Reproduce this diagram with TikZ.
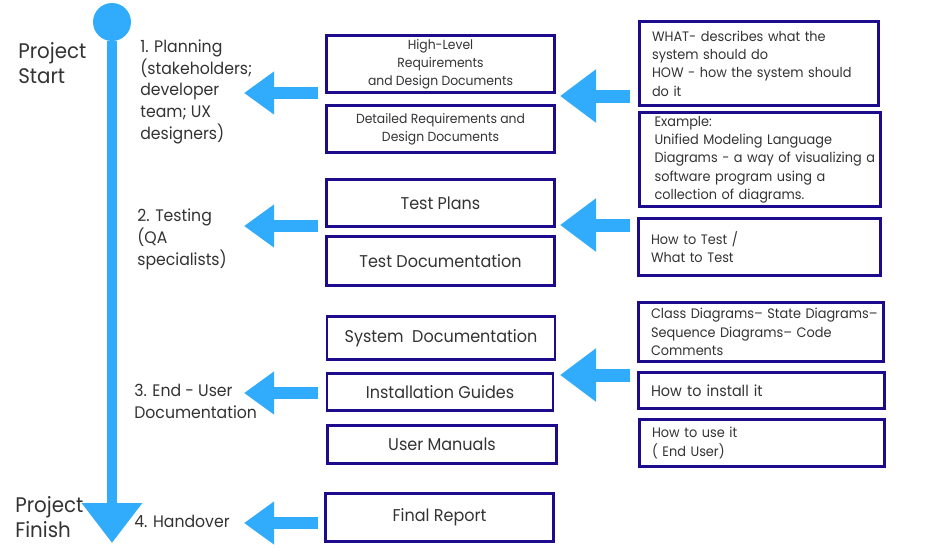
\documentclass[tikz,border=0pt]{standalone}
\usepackage{fontspec}
\setmainfont{Poppins}[FakeStretch=0.94]
\usetikzlibrary{arrows.meta}
\definecolor{skyblue}{HTML}{31ACFC}
\definecolor{navy}{HTML}{1C0B8C}
\definecolor{ink}{HTML}{333333}

\begin{document}
\begin{tikzpicture}[x=0.02cm,y=-0.02cm]
\tikzstyle{doc} = [rectangle, draw=navy, line width=1.5pt, text=ink, align=center, minimum width=4.56cm, inner sep=2pt]
\tikzstyle{note} = [rectangle, draw=navy, line width=1.5pt, text=ink, align=left, inner xsep=0.25cm, inner ysep=2pt, font=\fontsize{7.8}{10.4}\selectfont]
\tikzstyle{phase} = [anchor=base west, align=left, text=ink, inner sep=0pt, font=\fontsize{9.5}{12.3}\selectfont]
\tikzstyle{ends} = [anchor=base west, align=left, text=ink, inner sep=0pt, font=\fontsize{12}{14.2}\selectfont]
\tikzstyle{small} = [font=\fontsize{7.5}{10.2}\selectfont]
\tikzstyle{large} = [font=\fontsize{9.7}{12}\selectfont]
\tikzstyle{push} = [skyblue, line width=0.24cm, -{Triangle[length=0.6cm,width=0.82cm]}]
\tikzstyle{feed} = [skyblue, line width=0.26cm, -{Triangle[length=0.72cm,width=1.02cm]}]

\useasboundingbox (0,0) rectangle (945,552);

\node (start) [circle, fill=skyblue, minimum size=0.76cm, inner sep=0pt] at (112,22) {};
\coordinate (finish) at (112,543);
\draw [skyblue, line width=0.2cm, -{Triangle[length=0.8cm,width=1.16cm]}] (start) -- (finish);

\node (begin) [ends] at (18,83) {Project\\Start};
\node (done) [ends] at (15,537) {Project\\Finish};
\node (plan) [phase] at (140,139) {1. Planning\\(stakeholders;\\developer\\team; UX\\designers)};
\node (test) [phase] at (137,265) {2. Testing\\(QA\\specialists)};
\node (user) [phase] at (134,418) {3. End - User\\Documentation};
\node (hand) [phase] at (134,527) {4. Handover};

\node (hld) [doc, small, minimum height=1.06cm] at (440.5,64) {High-Level\\Requirements\\and Design Documents};
\node (dd) [doc, small, minimum height=0.94cm] at (440.5,129) {Detailed Requirements and\\Design Documents};
\node (tp) [doc, large, minimum height=0.94cm] at (440.5,203) {Test Plans};
\node (td) [doc, large, minimum height=0.98cm] at (440.5,261) {Test Documentation};
\node (sd) [doc, large, minimum height=0.86cm] at (441,338) {System\ \ Documentation};
\node (ig) [doc, large, minimum height=0.74cm, minimum width=4.52cm] at (440,392) {Installation Guides};
\node (um) [doc, large, minimum height=0.76cm, minimum width=4.58cm] at (442,444.5) {User Manuals};
\node (fr) [doc, large, minimum height=0.96cm] at (439.5,517.5) {Final Report};

\node (what) [note, text width=4.28cm, minimum height=1.68cm] at (759,63.5) {WHAT- describes what the\\system should do\\HOW - how the system should\\do it};
\node (uml) [note, text width=4.22cm, minimum height=1.8cm, inner xsep=0.3cm] at (760,159.5) {Example:\\Unified Modeling Language\\\mbox{Diagrams - a way of visualizing a}\\software program using a\\collection of diagrams.};
\node (howtest) [note, text width=4.34cm, minimum height=1.14cm] at (759.5,247) {How to Test /\\What to Test};
\node (diag) [note, text width=4.4cm, minimum height=1.18cm] at (761,332) {\mbox{Class Diagrams– State Diagrams–}\\Sequence Diagrams– Code\\Comments};
\node (install) [note, text width=4.42cm, minimum height=0.72cm, font=\fontsize{8.7}{11}\selectfont] at (761.5,390.5) {How to install it};
\node (use) [note, text width=4.4cm, minimum height=0.94cm] at (762,443) {How to use it\\( End User)};

\coordinate (p1) at (318,93);
\coordinate (q1) at (244,93);
\coordinate (p2) at (318,226);
\coordinate (q2) at (244,226);
\coordinate (p3) at (318,393);
\coordinate (q3) at (244,393);
\coordinate (p4) at (318,523);
\coordinate (q4) at (244,523);
\draw [push] (p1) -- (q1);
\draw [push] (p2) -- (q2);
\draw [push] (p3) -- (q3);
\draw [push] (p4) -- (q4);

\coordinate (r1) at (630,96);
\coordinate (s1) at (560,96);
\coordinate (r2) at (630,225);
\coordinate (s2) at (560,225);
\coordinate (r3) at (630,375);
\coordinate (s3) at (560,375);
\draw [feed] (r1) -- (s1);
\draw [feed] (r2) -- (s2);
\draw [feed] (r3) -- (s3);
\end{tikzpicture}
\end{document}
